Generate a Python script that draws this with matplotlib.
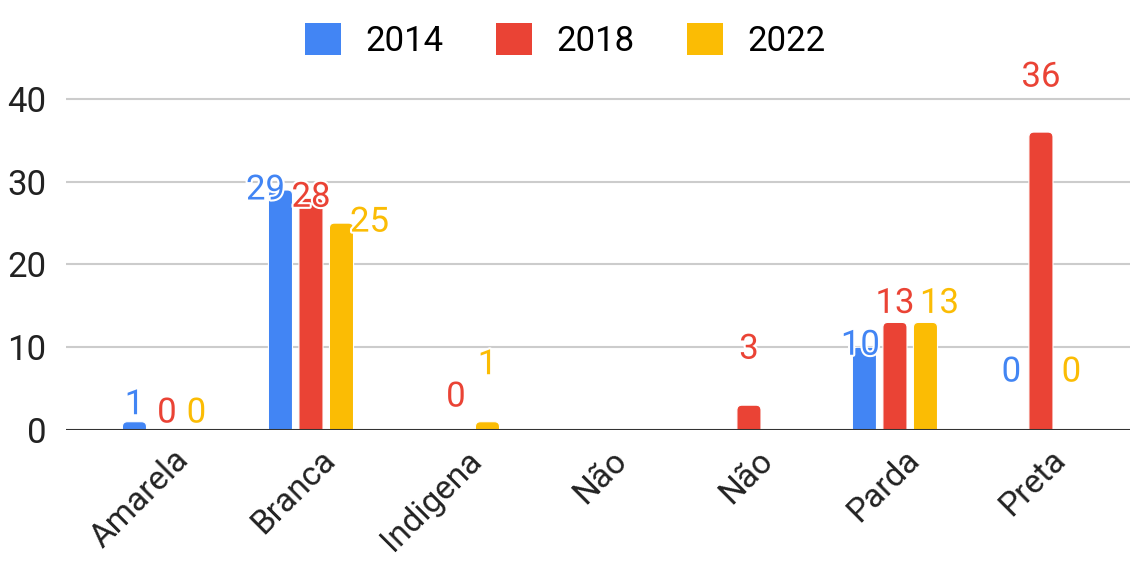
import numpy as np
import matplotlib.pyplot as plt
import matplotlib.patheffects as pe
from matplotlib.patches import FancyBboxPatch
from matplotlib.transforms import ScaledTranslation

plt.rcParams['font.family'] = ['Roboto', 'DejaVu Sans']

# data
categories = ['Amarela', 'Branca', 'Indigena', 'Não', 'Não', 'Parda', 'Preta']
years = ['2014', '2018', '2022']
v2014 = [1, 29, np.nan, np.nan, np.nan, 10, 0]
v2018 = [0, 28, 0, np.nan, 3, 13, 36]
v2022 = [0, 25, 1, np.nan, np.nan, 13, 0]
series = [v2014, v2018, v2022]
colors = ['#4285F4', '#EA4335', '#FBBC04']

# label nudges (px: dx right, dy up) to mimic the original placement
nudges = [
    [(0, 17), (-15, 0), None, None, None, (-4, 2), (1, 58)],
    [(2, 17), (0, 1), (-1, 33), None, (0, 56), (0, 19), (0, 55)],
    [(1, 17), (28, 1), (0, 57), None, None, (14, 19), (0, 58)],
]

dpi = 100
fs = 25
fig = plt.figure(figsize=(11.3, 5.62), dpi=dpi)
ax = fig.add_axes([66 / 1130, 132 / 562, 1064 / 1130, 372.4 / 562])

x = np.arange(len(categories))
step = 0.209
width = 0.165
xr, yr = 0.034, 0.6  # corner radius in data units (about 5 px)
for k, (vals, col) in enumerate(zip(series, colors)):
    pos = x + (k - 1) * step
    for i, v in enumerate(vals):
        if np.isnan(v):
            continue
        if v > 0:
            box = FancyBboxPatch((pos[i] - width / 2, -2), width, v + 2,
                                 boxstyle=f'round,pad=0,rounding_size={xr}',
                                 mutation_aspect=yr / xr, facecolor=col,
                                 edgecolor='white', linewidth=0.8, zorder=3)
            ax.add_patch(box)
        dx, dy = nudges[k][i]
        ax.annotate(f'{v:g}', (pos[i], v), xytext=(dx * 72 / dpi, dy * 72 / dpi),
                    textcoords='offset points', ha='center', va='center',
                    fontsize=fs, color=col, zorder=5,
                    path_effects=[pe.withStroke(linewidth=3, foreground='white')])
    ax.bar(pos, [0] * len(pos), width, color=col, label=years[k])

ax.set_xlim(-0.678, 6.61)
ax.set_ylim(0, 45)
ax.set_yticks([0, 10, 20, 30, 40])
ax.set_yticklabels(['0', '10', '20', '30', '40'])
ax.yaxis.grid(True, color='#cccccc', linewidth=1.5, zorder=0)
ax.axhline(0, color='#333333', linewidth=2.2, zorder=4)
for s in ax.spines.values():
    s.set_visible(False)
ax.tick_params(axis='y', length=0, labelsize=fs, pad=14, colors='#222222')
ax.tick_params(axis='x', length=0, labelsize=24, pad=10, colors='#222222')
ax.set_xticks(x)
ax.set_xticklabels(categories, rotation=45, ha='right', va='top',
                   rotation_mode='anchor')
shift = ScaledTranslation(8 / dpi, 0, fig.dpi_scale_trans)
for lab in ax.get_xticklabels():
    lab.set_transform(lab.get_transform() + shift)

leg = fig.legend(loc='upper center', bbox_to_anchor=(0.5, 1.0), ncol=3,
                 frameon=False, fontsize=fs, handlelength=1.05, handleheight=1.05,
                 handletextpad=0.7, columnspacing=1.5, borderaxespad=0.25)

fig.savefig('out.png', dpi=dpi)
